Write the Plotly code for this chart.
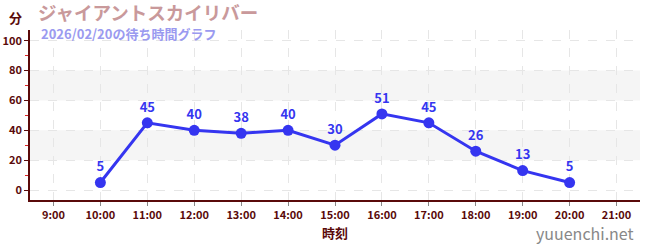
import plotly.graph_objects as go

hours = [10, 11, 12, 13, 14, 15, 16, 17, 18, 19, 20]
waits = [5, 45, 40, 38, 40, 30, 51, 45, 26, 13, 5]
tick_hours = list(range(9, 22))
tick_labels = [f"{h}:00" for h in tick_hours]
title_text = "ジャイアントスカイリバー"
subtitle_text = "2026/02/20の待ち時間グラフ"

FONT = "Noto Sans CJK JP, Noto Sans, sans-serif"
DARK = "#5a0a0a"
BLUE = "#3535f0"

W, H = 650, 250
l, r, t, b = 30, 10, 30, 50

fig = go.Figure()
fig.add_trace(go.Scatter(
    x=hours, y=waits, mode="lines+markers+text",
    line=dict(color=BLUE, width=3),
    marker=dict(color=BLUE, size=11),
    text=[str(v) for v in waits], textposition="top center",
    textfont=dict(color=BLUE, size=13, family=FONT, weight="bold"),
    cliponaxis=False, hoverinfo="skip"))

for y0, y1 in [(20, 40), (60, 80)]:
    fig.add_shape(type="rect", xref="paper", x0=0, x1=1, y0=y0, y1=y1,
                  fillcolor="#f5f5f5", line_width=0, layer="below")

fig.update_layout(
    width=W, height=H,
    margin=dict(l=l, r=r, t=t, b=b, autoexpand=False),
    plot_bgcolor="white", paper_bgcolor="white",
    showlegend=False,
    font=dict(family=FONT, color=DARK),
    xaxis=dict(range=[8.5, 21.5], tickvals=tick_hours, ticktext=tick_labels,
               automargin=False,
               showgrid=True, gridcolor="#e6e6e6", griddash="dash", gridwidth=1,
               showline=True, linecolor=DARK, linewidth=1.5,
               ticks="outside", ticklen=4, tickcolor="#888888",
               tickfont=dict(size=11, color=DARK, family=FONT, weight="bold"),
               zeroline=False,
               title=dict(text="時刻", font=dict(size=13, color=DARK, family=FONT, weight="bold"), standoff=8)),
    yaxis=dict(range=[-6.7, 107.2], tickvals=[0, 20, 40, 60, 80, 100],
               automargin=False,
               showgrid=True, gridcolor="#e6e6e6", griddash="dash", gridwidth=1,
               showline=True, linecolor=DARK, linewidth=1.5,
               ticks="outside", ticklen=4, tickcolor=DARK,
               tickfont=dict(size=11, color=DARK, family=FONT, weight="bold"),
               zeroline=False,
               minor=dict(tickvals=[10, 30, 50, 70, 90], ticks="outside", ticklen=3,
                          tickcolor="#dd2222", showgrid=False)),
)

def px_ann(text, px, py, size, color, xanchor="left", bold=True):
    fig.add_annotation(text=text, x=(px - l) / (W - l - r), y=(H - b - py) / (H - t - b),
                       xref="paper", yref="paper", showarrow=False,
                       xanchor=xanchor, yanchor="middle",
                       font=dict(size=size, color=color, family=FONT,
                                 weight="bold" if bold else "normal"))

px_ann("分", 7, 17, 13, DARK)
px_ann(title_text, 36, 12, 18.5, "#c9999b")
px_ann(subtitle_text, 39, 33, 13, "#9a9af0")
px_ann("yuuenchi.net", 636, 233, 16, "#888888", xanchor="right", bold=False)

fig.write_html("out.html")
